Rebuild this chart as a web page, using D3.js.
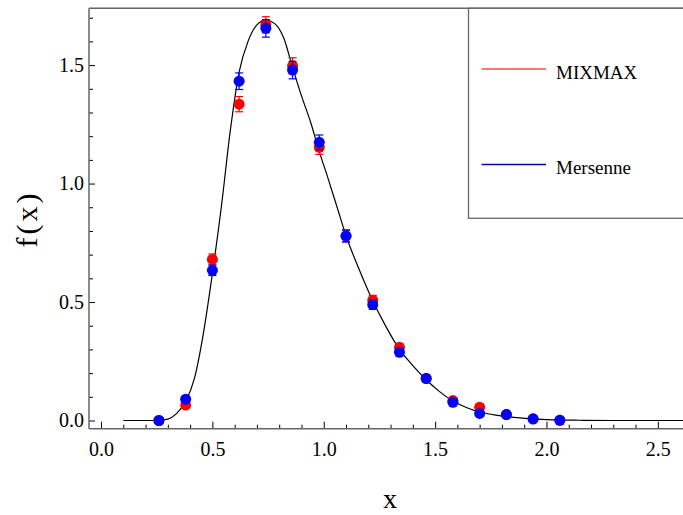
<!DOCTYPE html>
<html>
<head>
<meta charset="utf-8">
<script src="https://cdn.jsdelivr.net/npm/d3@7"></script>
<style>
  body { margin: 0; background: #fff; }
  svg { display: block; }
  text { font-family: "Liberation Serif", "Times New Roman", serif; fill: #000; }
</style>
</head>
<body>
<svg id="chart" width="683" height="515"></svg>
<script>
// ---- data ----
const xBins = [0.26, 0.38, 0.50, 0.62, 0.74, 0.86, 0.98, 1.10, 1.22, 1.34, 1.46, 1.58, 1.70, 1.82, 1.94, 2.06];
const mixmaxValues = [0.000, 0.065, 0.680, 1.335, 1.670, 1.497, 1.153, 0.780, 0.508, 0.309, 0.178, 0.084, 0.056, 0.025, 0.006, 0.001];
const mixmaxErrors = [0.000, 0.007, 0.023, 0.032, 0.034, 0.034, 0.030, 0.025, 0.020, 0.016, 0.012, 0.008, 0.007, 0.004, 0.002, 0.001];
const mersenneValues = [0.000, 0.090, 0.634, 1.432, 1.655, 1.479, 1.174, 0.778, 0.489, 0.288, 0.177, 0.077, 0.030, 0.025, 0.007, 0.001];
const mersenneErrors = [0.000, 0.008, 0.022, 0.035, 0.037, 0.037, 0.031, 0.025, 0.020, 0.015, 0.012, 0.008, 0.005, 0.004, 0.002, 0.001];
const curveX = [0.10, 0.20, 0.26, 0.30, 0.34, 0.38, 0.42, 0.46, 0.50, 0.54, 0.58, 0.62, 0.66, 0.70, 0.74, 0.78, 0.82, 0.86, 0.90, 0.94, 0.98, 1.02, 1.06, 1.10, 1.16, 1.22, 1.28, 1.34, 1.40, 1.46, 1.52, 1.58, 1.64, 1.70, 1.76, 1.82, 1.88, 1.94, 2.00, 2.06, 2.15, 2.30, 2.45, 2.62];
const curveY = [0.000, 0.000, 0.001, 0.006, 0.030, 0.080, 0.180, 0.370, 0.620, 0.900, 1.220, 1.470, 1.600, 1.670, 1.690, 1.675, 1.615, 1.490, 1.370, 1.262, 1.135, 1.020, 0.900, 0.780, 0.635, 0.505, 0.395, 0.300, 0.232, 0.172, 0.122, 0.082, 0.055, 0.036, 0.025, 0.017, 0.011, 0.007, 0.004, 0.002, 0.001, 0.000, 0.000, 0.000];
const xMajorTicks = [0.0, 0.5, 1.0, 1.5, 2.0, 2.5];
const xTickLabels = ["0.0", "0.5", "1.0", "1.5", "2.0", "2.5"];
const yMajorTicks = [0.0, 0.5, 1.0, 1.5];
const yTickLabels = ["0.0", "0.5", "1.0", "1.5"];
const seriesNames = ["MIXMAX", "Mersenne"];
const seriesColors = ["#ff0000", "#0000ff"];
const legendLineColors = ["#ff4a4a", "#0000aa"];

// ---- layout ----
const L = 89, R = 683, T = 8.3, B = 428.7;
const svg = d3.select("#chart");
const x = d3.scaleLinear().domain([-0.054, 2.613]).range([L, R]);
const y = d3.scaleLinear().domain([-0.0346, 1.7397]).range([B, T]);

const axisColor = "#666";

// minor ticks
const xMinor = d3.range(0, 26).map(i => i / 10).filter(v => !xMajorTicks.some(m => Math.abs(m - v) < 1e-9));
const yMinor = d3.range(0, 18).map(i => i / 10).filter(v => !yMajorTicks.some(m => Math.abs(m - v) < 1e-9));

const gx = svg.append("g").attr("transform", `translate(0,${B})`)
  .call(d3.axisBottom(x).tickValues(xMajorTicks).tickSize(-7).tickPadding(13)
    .tickFormat((d, i) => xTickLabels[i]));
gx.select(".domain").remove();
gx.selectAll(".tick line").attr("stroke", "#000").attr("stroke-width", 1);
gx.selectAll(".tick text").attr("font-size", 20).attr("font-family", "Liberation Serif").attr("fill", "#000");
const gxm = svg.append("g").attr("transform", `translate(0,${B})`)
  .call(d3.axisBottom(x).tickValues(xMinor).tickSize(-4).tickFormat(""));
gxm.select(".domain").remove();
gxm.selectAll(".tick line").attr("stroke", "#000").attr("stroke-width", 1);

const gy = svg.append("g").attr("transform", `translate(${L},0)`)
  .call(d3.axisLeft(y).tickValues(yMajorTicks).tickSize(-6).tickPadding(5)
    .tickFormat((d, i) => yTickLabels[i]));
gy.select(".domain").remove();
gy.selectAll(".tick line").attr("stroke", "#000").attr("stroke-width", 1);
gy.selectAll(".tick text").attr("font-size", 20).attr("font-family", "Liberation Serif").attr("fill", "#000");
const gym = svg.append("g").attr("transform", `translate(${L},0)`)
  .call(d3.axisLeft(y).tickValues(yMinor).tickSize(-4).tickFormat(""));
gym.select(".domain").remove();
gym.selectAll(".tick line").attr("stroke", "#000").attr("stroke-width", 1);

// frame lines
svg.append("line").attr("x1", L).attr("x2", R).attr("y1", B).attr("y2", B).attr("stroke", axisColor).attr("stroke-width", 1.5);
svg.append("line").attr("x1", L).attr("x2", L).attr("y1", T).attr("y2", B).attr("stroke", axisColor).attr("stroke-width", 1.5);
svg.append("line").attr("x1", L).attr("x2", R).attr("y1", T).attr("y2", T).attr("stroke", axisColor).attr("stroke-width", 1.5);

// curve
const curvePts = curveX.map((v, i) => [v, curveY[i]]);
svg.append("path").datum(curvePts)
  .attr("d", d3.line().x(d => x(d[0])).y(d => y(d[1])).curve(d3.curveMonotoneX))
  .attr("fill", "none").attr("stroke", "#000").attr("stroke-width", 1.2);

// series
function drawSeries(vals, errs, color) {
  const g = svg.append("g");
  const data = xBins.map((v, i) => ({ x: v, y: vals[i], e: errs[i] }));
  g.selectAll("circle").data(data).join("circle")
    .attr("cx", d => x(d.x)).attr("cy", d => y(d.y)).attr("r", 5.5).attr("fill", color);
  const eb = g.selectAll("g.eb").data(data.filter(d => d.e > 0)).join("g").attr("class", "eb");
  eb.append("line").attr("x1", d => x(d.x)).attr("x2", d => x(d.x))
    .attr("y1", d => y(d.y - d.e)).attr("y2", d => y(d.y + d.e)).attr("stroke", color).attr("stroke-width", 1.2);
  eb.append("line").attr("x1", d => x(d.x) - 4).attr("x2", d => x(d.x) + 4)
    .attr("y1", d => y(d.y - d.e)).attr("y2", d => y(d.y - d.e)).attr("stroke", color).attr("stroke-width", 1.2);
  eb.append("line").attr("x1", d => x(d.x) - 4).attr("x2", d => x(d.x) + 4)
    .attr("y1", d => y(d.y + d.e)).attr("y2", d => y(d.y + d.e)).attr("stroke", color).attr("stroke-width", 1.2);
}
drawSeries(mixmaxValues, mixmaxErrors, seriesColors[0]);
drawSeries(mersenneValues, mersenneErrors, seriesColors[1]);

// legend
const lg = svg.append("g");
lg.append("rect").attr("x", 468.5).attr("y", T).attr("width", 230).attr("height", 218.3 - T)
  .attr("fill", "#fff").attr("stroke", axisColor).attr("stroke-width", 1.3);
const legendY = [69, 164.5];
seriesNames.forEach((name, i) => {
  lg.append("line").attr("x1", 481.5).attr("x2", 546).attr("y1", legendY[i]).attr("y2", legendY[i])
    .attr("stroke", legendLineColors[i]).attr("stroke-width", 1.3);
  lg.append("text").attr("x", 556).attr("y", legendY[i] + 4)
    .attr("dy", "0.3em").attr("font-size", 19).text(name);
});

// axis titles
svg.append("text").attr("x", 390).attr("y", 508).attr("text-anchor", "middle")
  .attr("font-size", 28).text("x");
svg.append("text").attr("transform", "translate(37,219) rotate(-90)").attr("text-anchor", "middle")
  .attr("font-size", 30).attr("letter-spacing", 3).text("f(x)");
</script>
</body>
</html>
